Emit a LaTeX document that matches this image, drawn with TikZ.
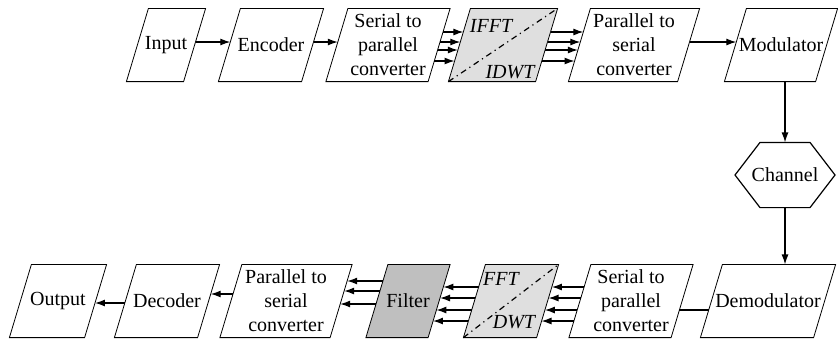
\documentclass[tikz,border=0pt]{standalone}
\usepackage{fontspec}
\setmainfont{Liberation Serif}
\usetikzlibrary{arrows.meta,backgrounds}

\begin{document}
\begin{tikzpicture}
[x=0.5pt, y=-0.5pt, line width=0.6pt,
every node/.style={align=center, font=\fontsize{10}{12}\selectfont, inner sep=0pt},
block/.style={minimum width=#1, minimum height=36pt},
arr/.style={-{Latex[length=5pt,width=3.5pt]}},
tag/.style={font=\fontsize{10}{12}\selectfont\itshape}]
\useasboundingbox (0,0) rectangle (838,345);
% transmitter
\node[block=28pt] (in) at (166,45) {Input};
\node[block=41pt] (en) at (271,45) {Encoder};
\node[block=50.5pt] (sp) at (388,45) {Serial to\\parallel\\converter};
\node[block=43pt] (if) at (503,45) {};
\node[block=54pt] (ps) at (634,45) {Parallel to\\serial\\converter};
\node[block=45pt] (md) at (781,45) {Modulator};
\node[minimum height=32pt] (ch) at (785,175) {Channel};
% receiver
\node[block=37pt] (out) at (58,301) {Output};
\node[block=41pt] (dec) at (167,301) {Decoder};
\node[block=54.5pt] (ps2) at (286,301) {Parallel to\\serial\\converter};
\node[block=30.5pt] (fl) at (408,301) {Filter};
\node[block=36pt] (ft) at (511,301) {};
\node[block=50.5pt] (sp2) at (631,301) {Serial to\\parallel\\converter};
\node[block=56pt] (dm) at (768,301) {Demodulator};
% slanted outlines
\begin{scope}[on background layer]
\foreach \n/\c in {in/white,en/white,sp/white,if/gray!25,ps/white,md/white,
                   out/white,dec/white,ps2/white,fl/gray!50,ft/gray!25,sp2/white,dm/white}
  \filldraw[fill=\c] ([xshift=5.5pt]\n.north west) -- ([xshift=5.5pt]\n.north east)
    -- ([xshift=-5.5pt]\n.south east) -- ([xshift=-5.5pt]\n.south west) -- cycle;
\end{scope}
\draw ([shift={(-25,0)}]ch.north) -- ([shift={(25,0)}]ch.north) -- ([shift={(50,0)}]ch.center)
  -- ([shift={(25,0)}]ch.south) -- ([shift={(-25,0)}]ch.south) -- ([shift={(-50,0)}]ch.center) -- cycle;
% transform blocks
\draw[dash dot] ([xshift=-5.5pt]if.south west) -- ([xshift=5.5pt]if.north east);
\draw[dash dot] ([xshift=-5.5pt]ft.south west) -- ([xshift=5.5pt]ft.north east);
\node[tag] (ifa) at ([shift={(-12,-19)}]if.center) {IFFT};
\node[tag] (ifb) at ([shift={(7,27)}]if.center) {IDWT};
\node[tag] (fta) at ([shift={(-10,-22)}]ft.center) {FFT};
\node[tag] (ftb) at ([shift={(3,21)}]ft.center) {DWT};
% connections
\draw[arr] ([shift={(0.92,-3)}]in.east) -- ([shift={(0.92,-3)}]en.west);
\draw[arr] ([shift={(0.92,-3)}]en.east) -- ([shift={(0.92,-3)}]sp.west);
\foreach \d [evaluate=\d as \s using -0.3056*\d] in {-13,-3,5,16}{
  \draw[arr] ([shift={(\s,\d)}]sp.east) -- ([shift={(\s,\d)}]if.west);
  \draw[arr] ([shift={(\s,\d)}]if.east) -- ([shift={(\s,\d)}]ps.west);
}
\draw[arr] ([shift={(0.92,-3)}]ps.east) -- ([shift={(0.92,-3)}]md.west);
\draw[arr] (md.south -| ch.north) -- (ch.north);
\draw[arr] (ch.south) -- (ch.south |- dm.north);
\draw ([shift={(-2.75,9)}]dm.west) -- ([shift={(-2.75,9)}]sp2.east);
\foreach \d [evaluate=\d as \s using -0.3056*\d] in {-14,-3,9,20}{
  \draw[arr] ([shift={(\s,\d)}]sp2.west) -- ([shift={(\s,\d)}]ft.east);
  \draw[arr] ([shift={(\s,\d)}]ft.west) -- ([shift={(\s,\d)}]fl.east);
}
\foreach \d [evaluate=\d as \s using -0.3056*\d] in {-20,-10,3}
  \draw[arr] ([shift={(\s,\d)}]fl.west) -- ([shift={(\s,\d)}]ps2.east);
\draw[arr] ([shift={(2.14,-7)}]ps2.west) -- ([shift={(2.14,-7)}]dec.east);
\draw[arr] ([shift={(-0.61,2)}]dec.west) -- ([shift={(-0.61,2)}]out.east);
\end{tikzpicture}
\end{document}
